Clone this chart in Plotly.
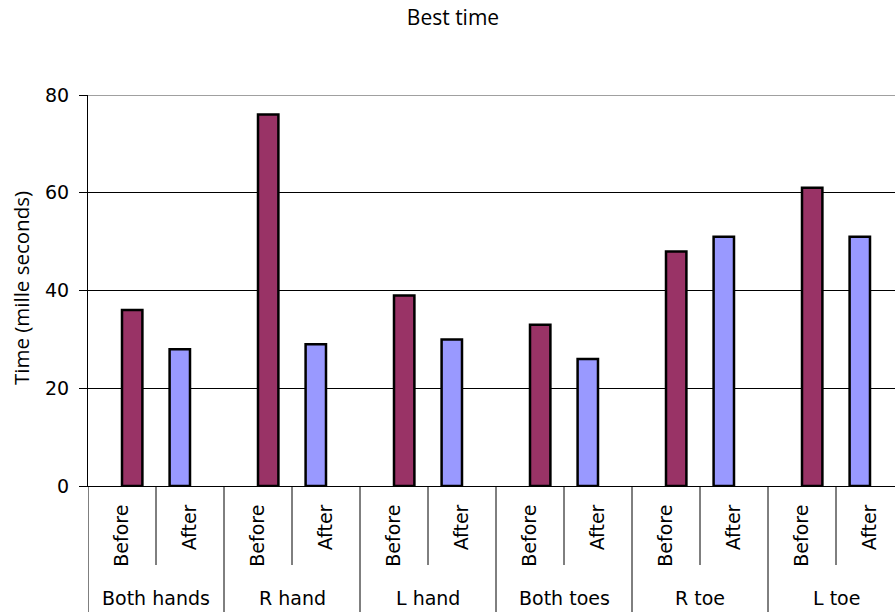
import plotly.graph_objects as go

# Body parts tested, each measured before and after
groups = ["Both hands", "R hand", "L hand", "Both toes", "R toe", "L toe"]
phases = ["Before", "After"]
before_ms = [36, 76, 39, 33, 48, 61]
after_ms = [28, 29, 30, 26, 51, 51]
y_ticks = [0, 20, 40, 60, 80]

# One slot per (group, phase) pair along the x axis
slot_labels = [p for _ in groups for p in phases]
slot_pos = list(range(len(slot_labels)))

before_series = []
after_series = []
for b, a in zip(before_ms, after_ms):
    before_series += [b, None]
    after_series += [None, a]

tick_font = dict(family="DejaVu Sans", size=19, color="#000000")

fig = go.Figure()
fig.add_trace(go.Bar(
    x=slot_pos, y=after_series, name="After",
    marker=dict(color="#9999FF", line=dict(color="#000000", width=2.5)),
))
fig.add_trace(go.Bar(
    x=slot_pos, y=before_series, name="Before",
    marker=dict(color="#993366", line=dict(color="#000000", width=2.5)),
))

plot_top, plot_bottom = 95, 486
plot_h = plot_bottom - plot_top

def paper_y(px):
    return (plot_bottom - px) / plot_h

shapes = []
# Top gridline at the axis maximum
shapes.append(dict(type="line", xref="paper", yref="y", x0=0, x1=1,
                   y0=y_ticks[-1], y1=y_ticks[-1], line=dict(color="#808080", width=1.5),
                   layer="below"))
# Separators between Before/After within a group (short) and between groups (full depth)
for i in range(len(groups)):
    mid = 2 * i + 0.5
    shapes.append(dict(type="line", xref="x", yref="paper", x0=mid, x1=mid,
                       y0=0, y1=paper_y(565), line=dict(color="#000000", width=1)))
for i in range(len(groups) + 1):
    edge = 2 * i - 0.5
    shapes.append(dict(type="line", xref="x", yref="paper", x0=edge, x1=edge,
                       y0=0, y1=paper_y(612), line=dict(color="#000000", width=1)))

# Group names under the phase labels
annotations = []
for i, g in enumerate(groups):
    annotations.append(dict(text=g, x=2 * i + 0.5, xref="x", y=paper_y(598), yref="paper",
                            showarrow=False, xanchor="center", yanchor="middle",
                            font=tick_font))
annotations.append(dict(text="Time (mille seconds)", textangle=-90, x=(21 - 88) / 807,
                        xref="paper", y=paper_y(288), yref="paper", showarrow=False,
                        xanchor="center", yanchor="middle",
                        font=dict(family="Open Sans", size=20.5, color="#000000")))

fig.update_layout(
    width=895, height=612,
    margin=dict(l=88, r=0, t=plot_top, b=612 - plot_bottom),
    paper_bgcolor="#FFFFFF", plot_bgcolor="#FFFFFF",
    barmode="group", bargap=0.4, bargroupgap=0,
    showlegend=False,
    title=dict(text="Best time", x=453 / 895, xref="container", xanchor="center",
               y=1 - 18 / 612, yref="container", yanchor="middle",
               font=dict(family="Open Sans", size=21, color="#000000")),
    shapes=shapes,
    annotations=annotations,
)
fig.update_xaxes(
    range=[-0.5, -0.5 + 807 / 68], tickmode="array", tickvals=slot_pos, ticktext=slot_labels,
    tickangle=-90, ticks="", ticklabelstandoff=10, tickfont=tick_font,
    showgrid=False, zeroline=False, showline=True, linecolor="#000000", linewidth=1,
)
fig.update_yaxes(
    range=[0, 80], tickmode="array", tickvals=y_ticks, ticks="outside", ticklen=8,
    tickcolor="#000000", ticklabelstandoff=6, tickfont=tick_font,
    showgrid=True, gridcolor="#000000", gridwidth=1, zeroline=False,
    showline=True, linecolor="#000000", linewidth=1,
)

fig.write_html("out.html")
